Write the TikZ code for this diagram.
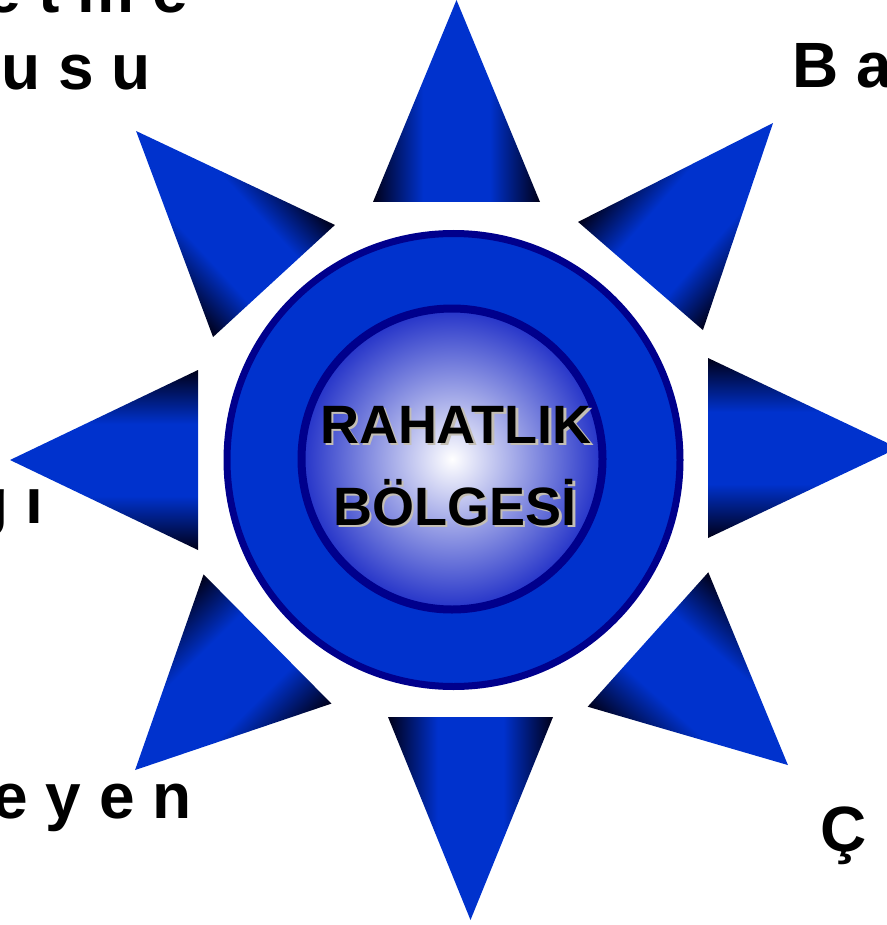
\documentclass[tikz,border=0pt]{standalone}
\usepackage{fontspec}
\setmainfont{Liberation Sans}
\usepackage{tikz}
\definecolor{starblue}{RGB}{0,50,205}
\definecolor{stardark}{RGB}{0,0,25}
\definecolor{ringnavy}{RGB}{0,0,140}
\definecolor{coreblue}{RGB}{35,50,200}
\definecolor{textshade}{RGB}{195,190,180}
\pgfdeclarehorizontalshading{spikeshade}{100bp}{color(0bp)=(stardark); color(25bp)=(stardark); color(40bp)=(starblue); color(60bp)=(starblue); color(75bp)=(stardark); color(100bp)=(stardark)}

\begin{document}
\begin{tikzpicture}[x=1pt,y=1pt,yscale=-1,xscale=1,
  spikefill/.style={shading=spikeshade},
  sidelabel/.style={font=\fontsize{64}{64}\selectfont\bfseries, inner sep=0pt},
  corelabel/.style={font=\fontsize{54}{54}\selectfont\bfseries, inner sep=0pt, anchor=base}]
\useasboundingbox (0,0) rectangle (886,925);

%Triangle top
\begin{scope}[transform canvas={shift={(456.5,-202)},rotate=0}]
\shade [spikefill] (-83.5,0) -- (83.5,0) -- (0,-202) -- cycle ;
\end{scope}
%Triangle top right
\begin{scope}[transform canvas={shift={(640.5,-276)},rotate=-40.9}]
\shade [spikefill] (-82.6,0) -- (82.6,0) -- (0,-202.4) -- cycle ;
\end{scope}
%Triangle right
\begin{scope}[transform canvas={shift={(708,-448)},rotate=-90}]
\shade [spikefill] (-90,0) -- (90,0) -- (0,-190) -- cycle ;
\end{scope}
%Triangle bottom right
\begin{scope}[transform canvas={shift={(648,-639.5)},rotate=-131.9}]
\shade [spikefill] (-90.3,0) -- (90.3,0) -- (0,-188) -- cycle ;
\end{scope}
%Triangle bottom
\begin{scope}[transform canvas={shift={(470.5,-717)},rotate=-180}]
\shade [spikefill] (-82.5,0) -- (82.5,0) -- (0,-203) -- cycle ;
\end{scope}
%Triangle bottom left
\begin{scope}[transform canvas={shift={(267.5,-639)},rotate=134.7}]
\shade [spikefill] (-90.9,0) -- (90.9,0) -- (0,-186.3) -- cycle ;
\end{scope}
%Triangle left
\begin{scope}[transform canvas={shift={(198,-460)},rotate=90}]
\shade [spikefill] (-90,0) -- (90,0) -- (0,-188) -- cycle ;
\end{scope}
%Triangle top left
\begin{scope}[transform canvas={shift={(274,-281)},rotate=42.6}]
\shade [spikefill] (-82.8,0) -- (82.8,0) -- (0,-203.8) -- cycle ;
\end{scope}

%Circle outer ring
\draw  [color=ringnavy, line width=7, fill=starblue] (453.5,460) circle (226.5) ;
%Circle core
\draw  [color=ringnavy, line width=8, inner color=white, outer color=coreblue] (452,459) circle (150.5) ;

% Text Node
\node (rahatshadow) at (458.5,445.5) [corelabel, text=textshade] {RAHATLIK};
\node (rahat) at (456,443) [corelabel] {RAHATLIK};
% Text Node
\node (bolgeshadow) at (457.5,527.5) [corelabel, text=textshade] {BÖLGESİ};
\node (bolge) at (455,525) [corelabel] {BÖLGESİ};

% Text Node
\node (tlone) at (188,13) [sidelabel, anchor=base east] {e t m e};
\node (tltwo) at (151,90) [sidelabel, anchor=base east] {u s u};
% Text Node
\node (trone) at (792,88) [sidelabel, anchor=base west] {B a};
% Text Node
\node (lfone) at (44,523) [sidelabel, anchor=base east] {g ı};
% Text Node
\node (blone) at (192,818) [sidelabel, anchor=base east] {e y e n};
% Text Node
\node (brone) at (820,851) [sidelabel, anchor=base west] {Ç};

\end{tikzpicture}
\end{document}
